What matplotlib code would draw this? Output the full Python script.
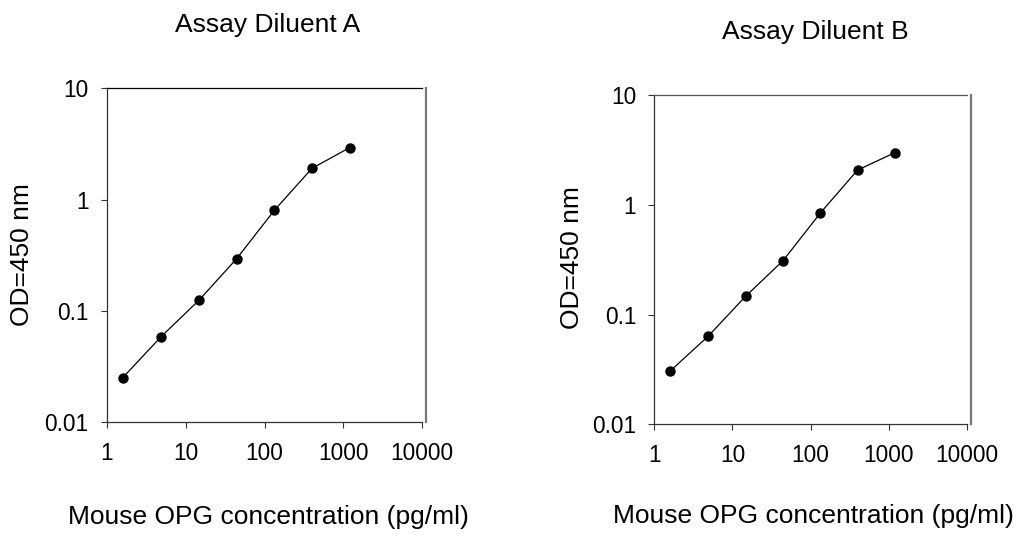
import matplotlib
matplotlib.use("Agg")
import matplotlib.pyplot as plt
from matplotlib.ticker import NullLocator

plt.rcParams['font.family'] = ['Liberation Sans', 'DejaVu Sans']

conc = [1.6, 4.9, 14.8, 44.4, 133.3, 400, 1200]
od_a = [0.0252, 0.0588, 0.125, 0.295, 0.802, 1.91, 2.93]
od_b = [0.0306, 0.0635, 0.147, 0.309, 0.839, 2.07, 2.98]
titles = ["Assay Diluent A", "Assay Diluent B"]
xlabel = "Mouse OPG concentration (pg/ml)"
ylabel = "OD=450 nm"
xticks = [1, 10, 100, 1000, 10000]
xticklabels = ["1", "10", "100", "1000", "10000"]
yticks = [0.01, 0.1, 1, 10]
yticklabels = ["0.01", "0.1", "1", "10"]

W, H = 1022, 542
fig = plt.figure(figsize=(W / 100, H / 100), dpi=100)

def px_axes(l, r, t, b):
    return fig.add_axes([l / W, 1 - b / H, (r - l) / W, (b - t) / H])

panels = [
    dict(box=(106.7, 422.3, 88.3, 422.3), y=od_a, title_xy=(268, 25), xl_xy=(268, 517), yl_xy=(22, 255), topc='black'),
    dict(box=(654.3, 966.7, 95.0, 424.3), y=od_b, title_xy=(815, 32), xl_xy=(813, 516), yl_xy=(572, 258), topc='#555555'),
]

for i, p in enumerate(panels):
    ax = px_axes(*p['box'])
    ax.plot(conc, p['y'], color='black', lw=0.9, marker='o', markersize=6.5,
            markerfacecolor='black', markeredgecolor='black')
    ax.set_xscale('log')
    ax.set_yscale('log')
    ax.set_xlim(1, 10000)
    ax.set_ylim(0.01, 10)
    ax.set_xticks(xticks)
    ax.set_xticklabels(xticklabels)
    ax.set_yticks(yticks)
    ax.set_yticklabels(yticklabels)
    ax.xaxis.set_minor_locator(NullLocator())
    ax.yaxis.set_minor_locator(NullLocator())
    ax.tick_params(axis='both', direction='out', length=4, width=0.8, labelsize=16.3, color='#333333')
    ax.tick_params(axis='x', pad=10)
    ax.tick_params(axis='y', pad=9)
    for s in ['left', 'bottom']:
        ax.spines[s].set_color('#333333')
        ax.spines[s].set_linewidth(0.9)
    ax.spines['top'].set_color(p['topc'])
    ax.spines['top'].set_linewidth(0.9)
    ax.spines['right'].set_color('#777777')
    ax.spines['right'].set_linewidth(1.6)
    ax.spines['right'].set_position(('outward', 3))
    fig.text(p['title_xy'][0] / W, 1 - p['title_xy'][1] / H, titles[i], ha='center', va='center', fontsize=19)
    fig.text(p['xl_xy'][0] / W, 1 - p['xl_xy'][1] / H, xlabel, ha='center', va='center', fontsize=19)
    fig.text(p['yl_xy'][0] / W, 1 - p['yl_xy'][1] / H, ylabel, ha='center', va='center', fontsize=19, rotation=90)

fig.savefig("out.png", dpi=100)
